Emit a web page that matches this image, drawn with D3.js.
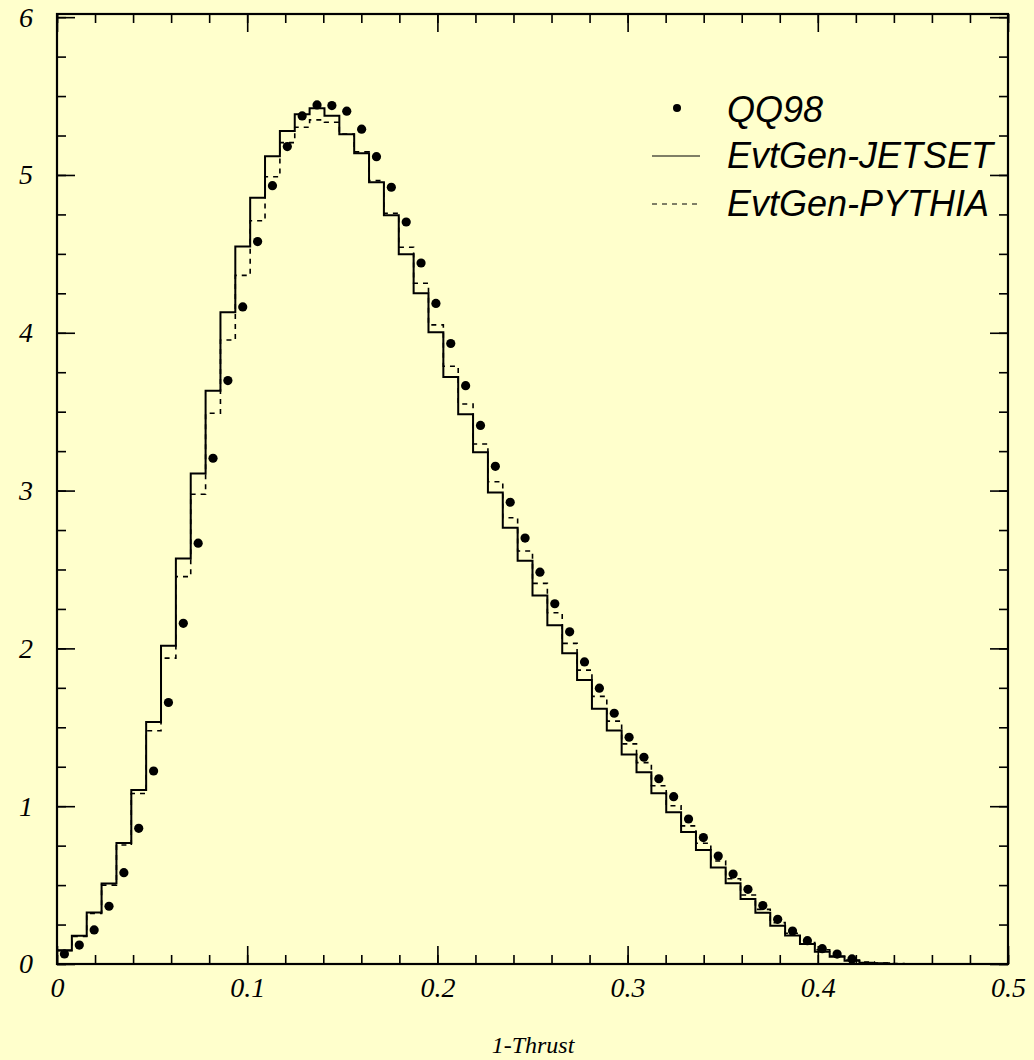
<!DOCTYPE html>
<html><head><meta charset="utf-8">
<script src="https://cdn.jsdelivr.net/npm/d3@7"></script>
<style>
html,body{margin:0;padding:0;background:#ffffcc;}
svg{display:block;}
</style></head><body>
<svg id="c" width="1034" height="1060"></svg>
<script>
// ---- data ----
const nBins = 64;
const binRange = [0, 0.5];
const xTicks = [0, 0.1, 0.2, 0.3, 0.4, 0.5];
const xTickLabels = ["0", "0.1", "0.2", "0.3", "0.4", "0.5"];
const yTicks = [0, 1, 2, 3, 4, 5, 6];
const yTickLabels = ["0", "1", "2", "3", "4", "5", "6"];
const seriesNames = ["QQ98", "EvtGen-JETSET", "EvtGen-PYTHIA"];
const xTitle = "1-Thrust";

const qq98 = [0.064,0.12,0.216,0.366,0.579,0.860,1.223,1.657,2.159,2.667,
  3.205,3.697,4.164,4.578,4.932,5.18,5.374,5.444,5.44,5.404,
  5.29,5.116,4.922,4.702,4.442,4.186,3.932,3.665,3.413,3.154,
  2.926,2.699,2.483,2.283,2.105,1.914,1.748,1.589,1.437,1.31,
  1.174,1.060,0.919,0.801,0.684,0.570,0.473,0.370,0.283,0.209,
  0.148,0.097,0.063,0.032];
const jetset = [0.087,0.179,0.326,0.510,0.766,1.103,1.533,2.016,2.570,3.108,
  3.633,4.130,4.546,4.856,5.118,5.279,5.385,5.423,5.376,5.258,
  5.137,4.954,4.745,4.497,4.250,4.004,3.720,3.484,3.243,2.988,
  2.765,2.556,2.335,2.146,1.969,1.800,1.618,1.480,1.327,1.215,
  1.082,0.961,0.837,0.722,0.611,0.511,0.412,0.325,0.243,0.180,
  0.127,0.078,0.046,0.021,0.008,0.005,0,0,0,0,0,0,0,0];
const pythia = [0.085,0.175,0.32,0.50,0.754,1.08,1.478,1.938,2.455,2.977,
  3.49,3.954,4.364,4.710,4.989,5.205,5.302,5.349,5.334,5.26,
  5.146,4.964,4.757,4.542,4.314,4.050,3.788,3.549,3.295,3.056,
  2.828,2.617,2.412,2.226,2.032,1.862,1.696,1.539,1.395,1.276,
  1.130,1.003,0.875,0.765,0.653,0.54,0.437,0.346,0.262,0.195,
  0.136,0.09,0.05,0.025,0.012,0.006,0.003,0,0,0,0,0,0,0];

// ---- chart ----
const svg = d3.select("#c");
const x = d3.scaleLinear().domain(binRange).range([57, 1008]);
const y = d3.scaleLinear().domain([0, 6.02]).range([964, 14]);
const binW = (binRange[1] - binRange[0]) / nBins;
const edge = i => binRange[0] + i * binW;

svg.append("rect").attr("width", 1034).attr("height", 1060).attr("fill", "#ffffcc");

function stepPoints(vals) {
  const pts = [];
  vals.forEach((v, i) => { pts.push([edge(i), v]); pts.push([edge(i + 1), v]); });
  return pts;
}
const line = d3.line().x(d => x(d[0])).y(d => y(d[1]));

svg.append("path").attr("d", line(stepPoints(pythia)))
  .attr("fill", "none").attr("stroke", "#000").attr("stroke-width", 1.6)
  .attr("stroke-dasharray", "5,5");
svg.append("path").attr("d", line(stepPoints(jetset)))
  .attr("fill", "none").attr("stroke", "#000").attr("stroke-width", 2);

svg.append("g").selectAll("circle").data(qq98).join("circle")
  .attr("cx", (d, i) => x(edge(i) + binW / 2))
  .attr("cy", d => y(d))
  .attr("r", 4.6).attr("fill", "#000");

// axes
const xMinor = x.ticks(25);
const yMinor = d3.range(0, 24.5).map(k => k * 0.25);
const serif = "'Liberation Serif','Times New Roman',serif";

function styleAxis(g) {
  g.select(".domain").remove();
  g.selectAll("line").attr("stroke", "#000").attr("stroke-width", 1.6);
}
svg.append("g").attr("transform", "translate(0,964)")
  .call(d3.axisBottom(x).tickValues(xMinor).tickSize(-9).tickFormat(""))
  .call(styleAxis);
svg.append("g").attr("transform", "translate(0,964)")
  .call(d3.axisBottom(x).tickValues(xTicks).tickSize(-18).tickPadding(13)
    .tickFormat((d, i) => xTickLabels[i]))
  .call(styleAxis)
  .call(g => g.selectAll("text").attr("font-family", serif).attr("font-style", "italic")
    .attr("font-size", 28).attr("fill", "#000"));
svg.append("g").attr("transform", "translate(0,14)")
  .call(d3.axisTop(x).tickValues(xMinor).tickSize(-9).tickFormat(""))
  .call(styleAxis);
svg.append("g").attr("transform", "translate(0,14)")
  .call(d3.axisTop(x).tickValues(xTicks).tickSize(-18).tickFormat(""))
  .call(styleAxis);

svg.append("g").attr("transform", "translate(57,0)")
  .call(d3.axisLeft(y).tickValues(yMinor).tickSize(-9).tickFormat(""))
  .call(styleAxis);
svg.append("g").attr("transform", "translate(57,0)")
  .call(d3.axisLeft(y).tickValues(yTicks).tickSize(-18).tickPadding(24)
    .tickFormat((d, i) => yTickLabels[i]))
  .call(styleAxis)
  .call(g => g.selectAll("text").attr("font-family", serif).attr("font-style", "italic")
    .attr("font-size", 28).attr("fill", "#000"));
svg.append("g").attr("transform", "translate(1008,0)")
  .call(d3.axisRight(y).tickValues(yMinor).tickSize(-9).tickFormat(""))
  .call(styleAxis);
svg.append("g").attr("transform", "translate(1008,0)")
  .call(d3.axisRight(y).tickValues(yTicks).tickSize(-18).tickFormat(""))
  .call(styleAxis);

// frame
svg.append("rect").attr("x", 57).attr("y", 14).attr("width", 1008 - 57).attr("height", 964 - 14)
  .attr("fill", "none").attr("stroke", "#000").attr("stroke-width", 2.2);

// x title
svg.append("text").attr("x", 533).attr("y", 1053).attr("text-anchor", "middle")
  .attr("font-family", serif).attr("font-style", "italic").attr("font-size", 24)
  .text(xTitle);

// legend
const sans = "'Liberation Sans',Arial,Helvetica,sans-serif";
const leg = svg.append("g");
leg.append("circle").attr("cx", 677).attr("cy", 108).attr("r", 4).attr("fill", "#000");
leg.append("line").attr("x1", 652).attr("x2", 700).attr("y1", 156).attr("y2", 156)
  .attr("stroke", "#000").attr("stroke-width", 1.2);
leg.append("line").attr("x1", 652).attr("x2", 698).attr("y1", 204).attr("y2", 204)
  .attr("stroke", "#000").attr("stroke-width", 1.2).attr("stroke-dasharray", "5,5");
[122, 168, 216].forEach((yy, i) => {
  leg.append("text").attr("x", 727).attr("y", yy)
    .attr("font-family", sans).attr("font-style", "italic").attr("font-size", 36)
    .attr("fill", "#000").text(seriesNames[i]);
});
</script>
</body></html>
